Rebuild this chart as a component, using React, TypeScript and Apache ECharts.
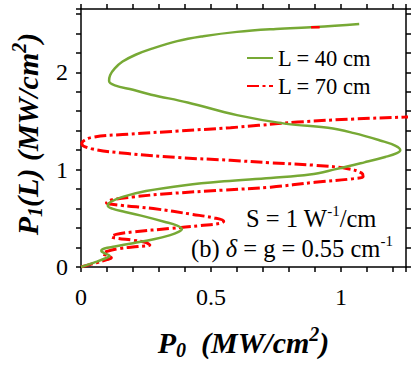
import React, { useEffect, useRef } from 'react';
import * as echarts from 'echarts';

const seriesNames = ['L = 40 cm', 'L = 70 cm'];

// L = 40 cm (x = P0, y = P1(L))
const green40: number[][] = [
  [0, 0], [0.05, 0.045], [0.095, 0.09], [0.11, 0.115], [0.092, 0.14], [0.078, 0.165], [0.09, 0.19],
  [0.13, 0.21], [0.2, 0.245], [0.28, 0.285], [0.34, 0.325], [0.375, 0.36], [0.388, 0.39],
  [0.37, 0.425], [0.32, 0.465], [0.25, 0.515], [0.17, 0.565], [0.12, 0.6], [0.103, 0.63],
  [0.115, 0.67], [0.16, 0.72], [0.25, 0.78], [0.4, 0.84], [0.55, 0.88], [0.73, 0.915],
  [0.88, 0.95], [0.98, 1.005], [1.09, 1.075], [1.17, 1.13], [1.215, 1.17], [1.228, 1.2],
  [1.21, 1.245], [1.15, 1.3], [1.05, 1.375], [0.95, 1.43], [0.79, 1.47], [0.6, 1.56],
  [0.41, 1.69], [0.27, 1.77], [0.2, 1.82], [0.13, 1.865], [0.108, 1.91], [0.112, 1.97],
  [0.13, 2.04], [0.16, 2.11], [0.21, 2.18], [0.27, 2.24], [0.37, 2.32], [0.47, 2.37],
  [0.6, 2.415], [0.75, 2.445], [0.9, 2.465], [1.07, 2.497],
];

// L = 70 cm
const red70: number[][] = [
  [0, 0], [0.059, 0.044], [0.1, 0.075], [0.117, 0.095], [0.1, 0.12], [0.085, 0.135], [0.1, 0.16],
  [0.149, 0.19], [0.22, 0.21], [0.265, 0.225], [0.25, 0.25], [0.2, 0.275], [0.14, 0.295],
  [0.117, 0.31], [0.135, 0.335], [0.2, 0.36], [0.343, 0.396], [0.46, 0.425], [0.54, 0.45],
  [0.549, 0.47], [0.51, 0.505], [0.43, 0.54], [0.278, 0.6], [0.15, 0.635], [0.098, 0.66],
  [0.12, 0.69], [0.2, 0.72], [0.343, 0.755], [0.55, 0.79], [0.729, 0.82], [0.9, 0.87],
  [1.04, 0.905], [1.085, 0.93], [1.08, 0.965], [1.026, 1.01], [0.9, 1.045], [0.729, 1.07],
  [0.575, 1.096], [0.374, 1.124], [0.18, 1.165], [0.038, 1.216], [0.003, 1.267],
  [0.038, 1.329], [0.18, 1.363], [0.374, 1.397], [0.575, 1.431], [0.683, 1.455],
  [0.833, 1.489], [1.05, 1.52], [1.245, 1.54], [1.3, 1.546],
];

// small red segment visible on the green curve near the top
const redMark: number[][] = [[0.885, 2.462], [0.918, 2.462]];

const xTickLabels = ['0', '0.5', '1'];
const yTickLabels = ['0', '1', '2'];

const F = 'Liberation Serif';
const GREEN = '#77a935';
const RED = '#ff0000';

const titleRich = {
  b: { fontFamily: F, fontWeight: 'bold', fontStyle: 'italic', fontSize: 30, lineHeight: 36, color: '#000' },
  sub: { fontFamily: F, fontWeight: 'bold', fontStyle: 'italic', fontSize: 20, lineHeight: 20, verticalAlign: 'bottom', color: '#000' },
  sup: { fontFamily: F, fontWeight: 'bold', fontStyle: 'italic', fontSize: 20, lineHeight: 12, verticalAlign: 'top', color: '#000' },
};

const annRich = {
  n: { fontFamily: F, fontSize: 24.5, lineHeight: 30, color: '#000' },
  i: { fontFamily: F, fontSize: 24.5, lineHeight: 30, fontStyle: 'italic', color: '#000' },
  sup: { fontFamily: F, fontSize: 15, lineHeight: 10, verticalAlign: 'top', color: '#000' },
};

export default function App() {
  const ref = useRef<HTMLDivElement>(null);
  useEffect(() => {
    const chart = echarts.init(ref.current!, null, { renderer: 'svg' });
    const axisLine = { show: true, onZero: false, lineStyle: { color: '#000', width: 1.5 } };
    const axisTick = { show: true, inside: false, length: 5, lineStyle: { color: '#000', width: 1.5 } };
    const xFmt = (v: number) => {
      const idx = xTickLabels.indexOf(String(+v.toFixed(4)));
      return idx >= 0 ? xTickLabels[idx] : '';
    };
    const yFmt = (v: number) => {
      const idx = yTickLabels.indexOf(String(+v.toFixed(4)));
      return idx >= 0 ? yTickLabels[idx] : '';
    };
    const xBase = { type: 'value', min: 0, max: 1.25, interval: 0.1, splitLine: { show: false }, axisLine, axisTick };
    const yBase = { type: 'value', min: 0, max: 2.65, interval: 0.2, splitLine: { show: false }, axisLine, axisTick };
    chart.setOption({
      animation: false,
      textStyle: { fontFamily: F },
      grid: { left: 81, right: 9, top: 9, bottom: 103, containLabel: false },
      xAxis: [
        {
          ...xBase,
          position: 'bottom',
          axisLabel: { formatter: xFmt, fontFamily: F, fontSize: 24, color: '#000', margin: 18 },
          name: '{b|P}{sub|0}{b|  (MW/cm}{sup|2}{b|)}',
          nameLocation: 'middle',
          nameGap: 57,
          nameTextStyle: { fontFamily: F, rich: titleRich },
        },
        { ...xBase, position: 'top', axisLabel: { show: false } },
      ],
      yAxis: [
        {
          ...yBase,
          position: 'left',
          axisLabel: { formatter: yFmt, fontFamily: F, fontSize: 24, color: '#000', margin: 13 },
          name: '{b|P}{sub|1}{b|(L) (MW/cm}{sup|2}{b|)}',
          nameLocation: 'middle',
          nameRotate: 90,
          nameGap: 14,
          nameTextStyle: { fontFamily: F, rich: titleRich, padding: [0, 0, 0, 8] },
        },
        { ...yBase, position: 'right', axisLabel: { show: false } },
      ],
      legend: {
        data: seriesNames,
        orient: 'vertical',
        left: 241,
        top: 40,
        itemWidth: 26,
        itemHeight: 14,
        itemGap: 2,
        itemStyle: { opacity: 0 },
        textStyle: { fontFamily: F, fontSize: 22.5, lineHeight: 26, color: '#000' },
      },
      series: [
        {
          name: seriesNames[0], type: 'line', data: green40, symbol: 'none', smooth: 0.4,
          lineStyle: { color: GREEN, width: 2.5 }, itemStyle: { color: GREEN }, z: 3,
        },
        {
          name: seriesNames[1], type: 'line', data: red70, symbol: 'none', smooth: 0.4,
          lineStyle: { color: RED, width: 3, type: [12, 3.5, 3, 3.5] }, itemStyle: { color: RED }, z: 2,
        },
        {
          name: 'redMark', type: 'line', data: redMark, symbol: 'none',
          lineStyle: { color: RED, width: 2.5 }, z: 4,
        },
      ],
      graphic: [
        {
          type: 'text', x: 246, y: 218,
          style: { text: '{n|S = 1 W}{sup|-1}{n|/cm}', rich: annRich, fontFamily: F, fontSize: 24, align: 'left', verticalAlign: 'middle' },
        },
        {
          type: 'text', x: 191, y: 248,
          style: { text: '{n|(b) }{i|δ}{n| = g = 0.55 cm}{sup|-1}', rich: annRich, fontFamily: F, fontSize: 24, align: 'left', verticalAlign: 'middle' },
        },
      ],
    });
    return () => chart.dispose();
  }, []);
  return <div ref={ref} style={{ position: 'absolute', left: 0, top: 0, width: 415, height: 370 }} />;
}
